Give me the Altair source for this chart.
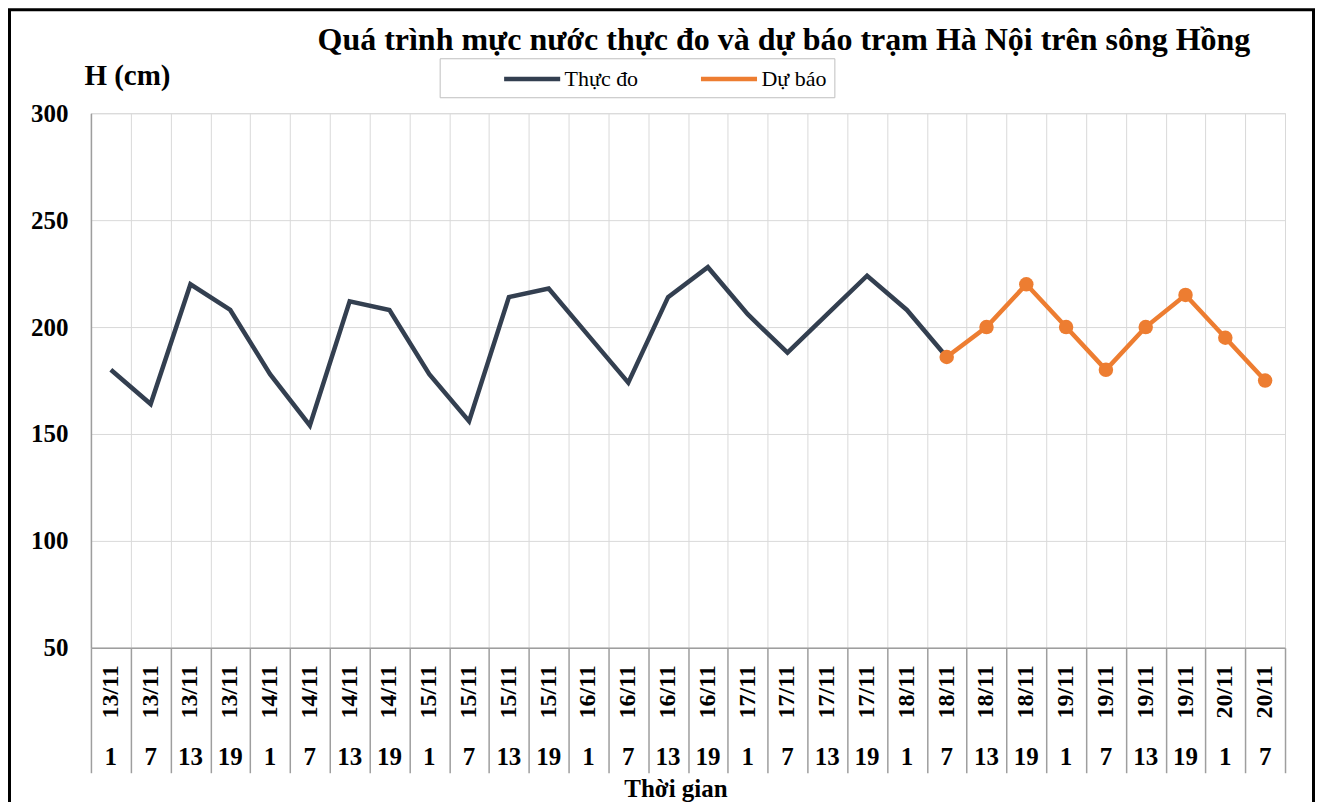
import altair as alt
import pandas as pd

# ---- data ----
dates = ["13/11"] * 4 + ["14/11"] * 4 + ["15/11"] * 4 + ["16/11"] * 4 + \
        ["17/11"] * 4 + ["18/11"] * 4 + ["19/11"] * 4 + ["20/11"] * 2
hours = [1, 7, 13, 19] * 7 + [1, 7]
observed = [180, 164, 220, 208, 178, 154, 212, 208, 178, 156, 214, 218,
            196, 174, 214, 228, 206, 188, 206, 224, 208, 186]
forecast = [186, 200, 220, 200, 180, 200, 215, 195, 175]
forecast_start = 21
series_names = ["Thực đo", "Dự báo"]
series_colors = ["#333F50", "#ED7D31"]
y_ticks = [50, 100, 150, 200, 250, 300]
title_text = "Quá trình mực nước thực đo và dự báo trạm Hà Nội trên sông Hồng"

n = len(dates)
cat_df = pd.DataFrame({"idx": list(range(n)), "date": dates, "hour": [str(h) for h in hours]})
obs_df = pd.DataFrame({"idx": list(range(len(observed))), "H": observed, "series": series_names[0]})
fc_df = pd.DataFrame({"idx": list(range(forecast_start, forecast_start + len(forecast))),
                      "H": forecast, "series": series_names[1]})

W, H = 1195, 535
FONT = "Liberation Serif"

x_enc = alt.X(
    "pos:Q",
    scale=alt.Scale(domain=[0, n], nice=False, zero=False),
    axis=alt.Axis(
        values=list(range(n + 1)), grid=True, gridColor="#d9d9d9", gridWidth=1,
        labels=False, ticks=True, tickSize=125, tickColor="#9e9e9e", tickWidth=1.5,
        domainColor="#9e9e9e", domainWidth=1.5,
        title="Thời gian", titleFont=FONT, titleFontSize=25, titleFontWeight="bold",
        titleColor="black", titleX=585, titleY=141, titleBaseline="middle", titleAlign="center",
    ),
)
y_enc = alt.Y(
    "H:Q",
    scale=alt.Scale(domain=[50, 300], nice=False, zero=False),
    axis=alt.Axis(
        values=y_ticks, grid=True, gridColor="#d9d9d9", gridWidth=1,
        ticks=False, labelPadding=23, labelFont=FONT, labelFontSize=25,
        labelFontWeight="bold", labelColor="black",
        domainColor="#9e9e9e", domainWidth=1.5,
        title="H (cm)", titleFont=FONT, titleFontSize=29, titleFontWeight="bold",
        titleColor="black", titleAngle=0, titleX=-7, titleY=-38,
        titleAlign="left", titleBaseline="middle",
    ),
)
color_enc = alt.Color(
    "series:N",
    scale=alt.Scale(domain=series_names, range=series_colors),
    legend=alt.Legend(
        orient="none", legendX=349, legendY=-55, direction="horizontal",
        title="",
        symbolType="M4,0H9.1", symbolSize=484, symbolStrokeWidth=4.5,
        labelFont=FONT, labelFontSize=22, labelColor="black", labelOffset=91,
        labelLimit=400, columnPadding=5, padding=7,
        strokeColor="#bfbfbf", fillColor="white",
        labelExpr="indexof(datum.label, 'b') >= 0 ? datum.label + '\u00a0\u00a0\u00a0\u00a0\u00a0\u00a0\u00a0\u00a0' : datum.label",
    ),
)

frame = alt.Chart(pd.DataFrame({"f": [0]})).mark_rect(
    fillOpacity=0, stroke="black", strokeWidth=3
).encode(
    x=alt.value(-81.5), x2=alt.value(1223.5), y=alt.value(-103.5), y2=alt.value(720)
)

cat_base = alt.Chart(cat_df).transform_calculate(pos="datum.idx + 0.5")
date_text = cat_base.mark_text(
    angle=270, align="center", baseline="middle", font=FONT, fontSize=24,
    fontWeight="bold", color="black"
).encode(x=x_enc, y=alt.value(579), text="date:N")
hour_text = cat_base.mark_text(
    align="center", baseline="middle", font=FONT, fontSize=25,
    fontWeight="bold", color="black"
).encode(x=x_enc, y=alt.value(644), text="hour:N")

obs_line = alt.Chart(obs_df).transform_calculate(pos="datum.idx + 0.5").mark_line(
    strokeWidth=4.5, strokeJoin="miter"
).encode(x=x_enc, y=y_enc, color=color_enc)

fc_line = alt.Chart(fc_df).transform_calculate(pos="datum.idx + 0.5").mark_line(
    strokeWidth=4.5,
    point=alt.OverlayMarkDef(filled=True, size=210, opacity=1),
).encode(x=x_enc, y=y_enc, color=color_enc)

chart = alt.layer(frame, date_text, hour_text, obs_line, fc_line).properties(
    width=W, height=H,
    padding={"left": 83, "top": 105, "right": 30, "bottom": 154},
    autosize=alt.AutoSizeParams(type="none"),
    title=alt.TitleParams(
        text=title_text, font=FONT, fontSize=32, fontWeight="bold", color="black",
        anchor="middle", dx=96, dy=51, offset=2,
    ),
).configure_view(
    stroke="#9e9e9e", strokeWidth=1.5
).configure(
    font=FONT
)

chart.save("out.html", embed_options={"renderer": "svg", "actions": False})
